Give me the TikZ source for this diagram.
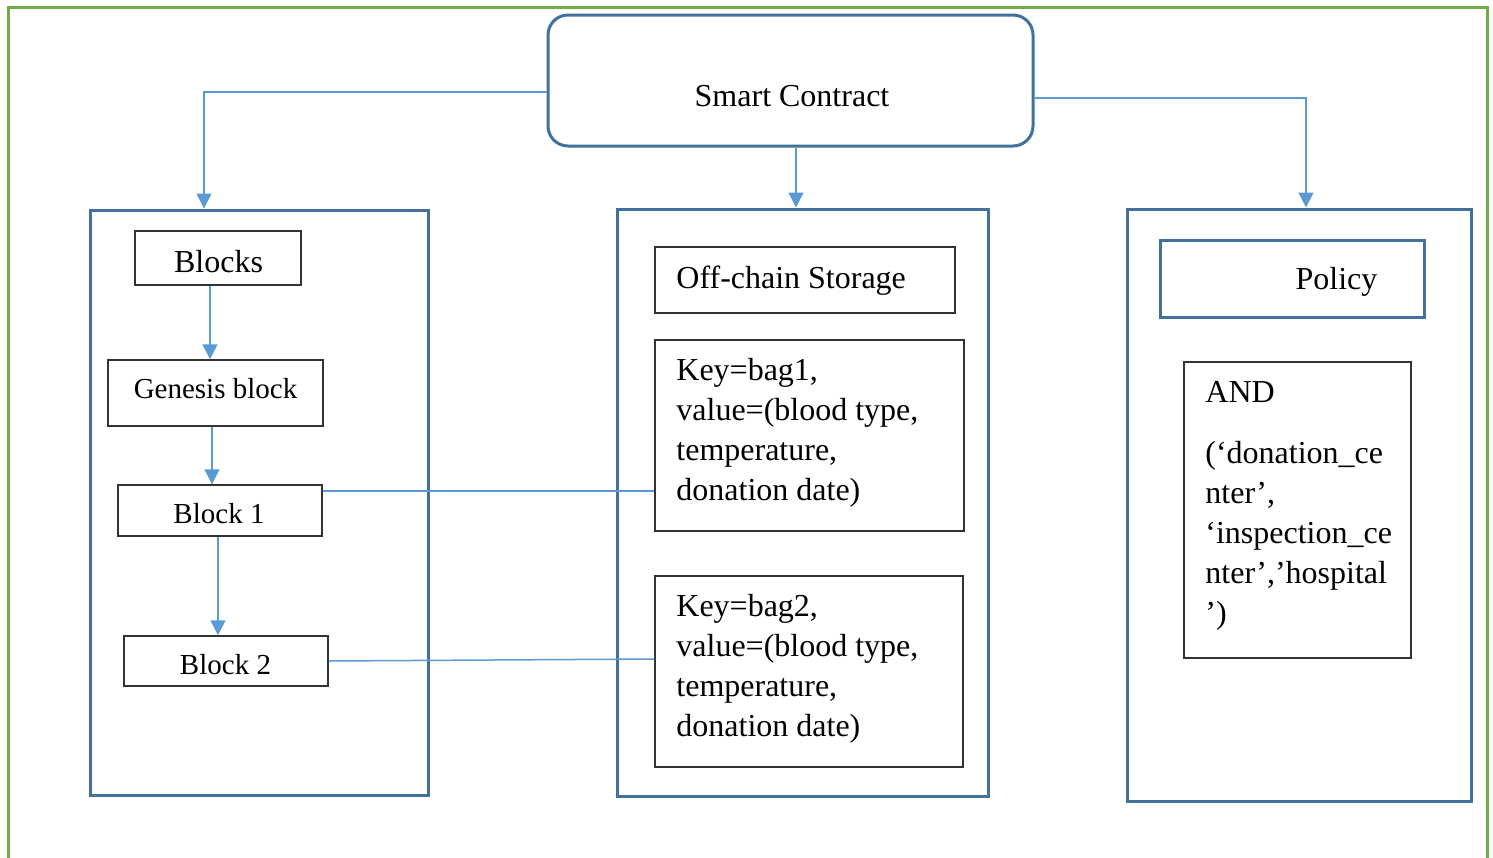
\documentclass[tikz,border=0pt]{standalone}
\usepackage{fontspec}
\setmainfont{Liberation Serif}
\usetikzlibrary{arrows.meta,fit,calc}
\definecolor{frameblue}{HTML}{41719C}
\definecolor{linkblue}{HTML}{5B9BD5}
\definecolor{framegreen}{HTML}{70AD47}
\definecolor{boxgray}{HTML}{333333}
\begin{document}
\begin{tikzpicture}[x=0.5pt,y=-0.5pt,
  container/.style={draw=frameblue,line width=1.5pt,inner sep=0pt},
  plainbox/.style={draw=boxgray,line width=0.75pt,inner sep=0pt},
  conn/.style={draw=linkblue,line width=0.75pt,-{Triangle[length=7.5pt,width=7.5pt]}},
  link/.style={draw=linkblue,line width=0.75pt},
  big/.style={font=\fontsize{16}{20}\selectfont,inner sep=0pt},
  small/.style={font=\fontsize{14.5}{18}\selectfont,inner sep=0pt}]
\useasboundingbox (0,0) rectangle (1493,857);
\draw[framegreen,line width=1.5pt] (8,880) -- (8,7) -- (1487,7) -- (1487,880);

% top
\node[fit={(548,15) (1033,146)},draw=frameblue,line width=1.5pt,rounded corners=10pt,inner sep=0pt] (sc) {};
\node[big,anchor=base] (sctext) at (792,106) {Smart Contract};

% containers
\node[container,fit={(90,210) (428,795)}] (left) {};
\node[container,fit={(617,209) (988,796)}] (mid) {};
\node[container,fit={(1127,209) (1471,801)}] (right) {};

% left column
\node[plainbox,fit={(135,231) (301,285)}] (blocks) {};
\node[big,anchor=base] (blockstext) at (218.5,272) {Blocks};
\node[plainbox,fit={(108,360) (323,426)}] (genesis) {};
\node[small,anchor=base] (genesistext) at (215.5,398) {Genesis block};
\node[plainbox,fit={(118,485) (322,536)}] (b1) {};
\node[small,anchor=base] (b1text) at (219,523) {Block 1};
\node[plainbox,fit={(124,636) (328,686)}] (b2) {};
\node[small,anchor=base] (b2text) at (225.5,674) {Block 2};

% middle column
\node[plainbox,fit={(655,247) (955,313)}] (offchain) {};
\node[big,anchor=base west] (offtext) at (676,288) {Off-chain Storage};
\node[plainbox,fit={(655,340) (964,531)}] (key1) {};
\node[big,anchor=north west,align=left] (key1text) at (676,358)
  {Key=bag1,\\value=(blood type,\\temperature,\\donation date)};
\node[plainbox,fit={(655,576) (963,767)}] (key2) {};
\node[big,anchor=north west,align=left] (key2text) at (676,594)
  {Key=bag2,\\value=(blood type,\\temperature,\\donation date)};

% right column
\node[container,fit={(1160,240) (1424,317)}] (policy) {};
\node[big,anchor=base] (policytext) at (1336.5,289) {Policy};
\node[plainbox,fit={(1184,362) (1411,658)}] (andbox) {};
\node[big,anchor=base west] (andtext) at (1205,402) {AND};
\node[big,anchor=north west,align=left] (andlist) at (1205,441)
  {(‘donation\_ce\\nter’,\\‘inspection\_ce\\nter’,’hospital\\’)};

% connectors from smart contract
\coordinate (scl) at ($(sc.west)+(0,11.5)$);
\draw[conn] (scl) -| ($(left.north)+(-55,0)$);
\coordinate (scb) at ($(sc.south)+(5.5,0)$);
\draw[conn] (scb) -- (scb |- mid.north);
\coordinate (scr) at ($(sc.east)+(0,17.5)$);
\draw[conn] (scr) -| ($(right.north)+(7,0)$);

% chain
\coordinate (c1) at ($(blocks.south)+(-8,0)$);
\draw[conn] (c1) -- (c1 |- genesis.north);
\coordinate (c2) at ($(genesis.south)+(-3.5,0)$);
\draw[conn] (c2) -- (c2 |- b1.north);
\coordinate (c3) at ($(b1.south)+(-2,0)$);
\draw[conn] (c3) -- (c3 |- b2.north);

% links to storage
\coordinate (l1) at ($(b1.east)+(0,-19.5)$);
\draw[link] (l1) -- (l1 -| key1.west);
\draw[link] (b2.east) -- ($(key2.west)+(0,-12.5)$);
\end{tikzpicture}
\end{document}
